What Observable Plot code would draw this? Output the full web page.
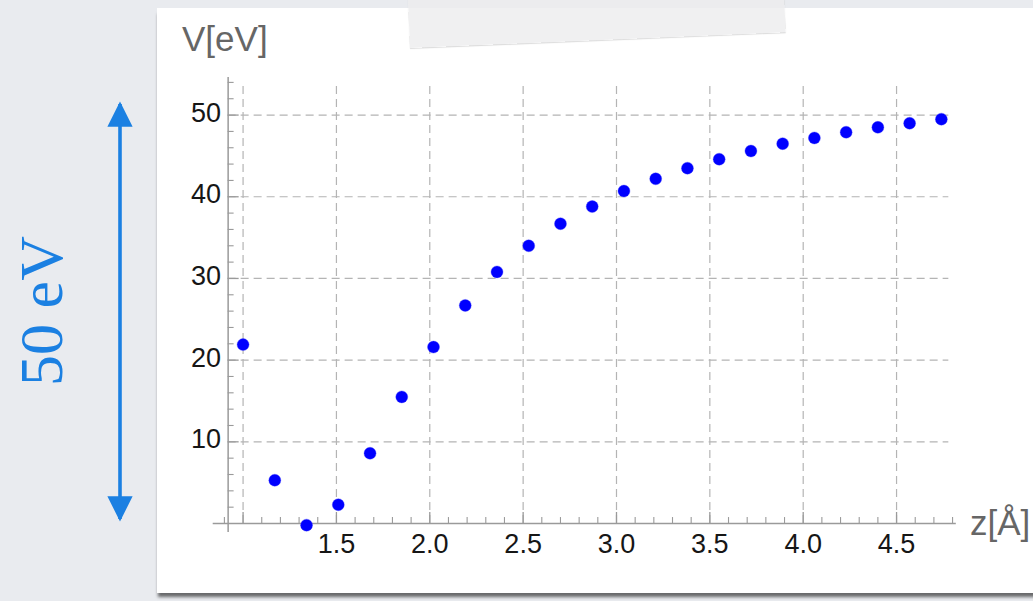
<!DOCTYPE html>
<html>
<head>
<meta charset="utf-8">
<script src="https://cdn.jsdelivr.net/npm/d3@7"></script>
<script src="https://cdn.jsdelivr.net/npm/@observablehq/plot@0.6"></script>
<style>
  html, body { margin: 0; padding: 0; }
  body { width: 1033px; height: 601px; overflow: hidden; position: relative; background: #e9ebef; font-family: "Liberation Sans", Arial, Helvetica, sans-serif; }
  #panel { position: absolute; left: 157px; top: 8px; width: 900px; height: 585px; background: #ffffff; box-shadow: 0 5px 3px -1px rgba(0,0,0,0.55); }
  #chart { position: absolute; left: 0; top: 0; }
  #tape { position: absolute; left: 410px; top: -8px; width: 376px; height: 56px; background: rgba(236,236,237,0.8); transform: rotate(-2.4deg); transform-origin: 0 100%; box-shadow: 0 1px 1px rgba(0,0,0,0.14); }
  .axlabel { position: absolute; color: #666; font-size: 35px; line-height: 1; white-space: nowrap; }
  #overlay { position: absolute; left: 0; top: 0; }
</style>
</head>
<body>
<div id="panel"></div>
<div id="chart"></div>
<div id="tape"></div>
<div class="axlabel" id="ylab" style="left:182px; top:21px;">V[eV]</div>
<div class="axlabel" id="xlab" style="left:970px; top:505px;">z[Å]</div>
<svg id="overlay" width="156" height="601">
  <defs>
    <marker id="ah" viewBox="0 0 10 10" refX="9" refY="5" markerWidth="7" markerHeight="7" orient="auto-start-reverse" markerUnits="strokeWidth">
      <path d="M0,0 L10,5 L0,10 z" fill="#1b80e2"></path>
    </marker>
  </defs>
  <line x1="120" y1="104" x2="120" y2="519" stroke="#1b80e2" stroke-width="3.6" marker-start="url(#ah)" marker-end="url(#ah)"></line>
  <text transform="translate(62,311) rotate(-90)" text-anchor="middle" fill="#1b80e2" font-family="'Liberation Serif', 'DejaVu Serif', serif" font-size="62">50 eV</text>
</svg>
<script>
// Data
const z = [1.00, 1.17, 1.34, 1.51, 1.68, 1.85, 2.02, 2.19, 2.36, 2.53, 2.70, 2.87, 3.04, 3.21, 3.38, 3.55, 3.72, 3.89, 4.06, 4.23, 4.40, 4.57, 4.74];
const V = [21.9, 5.3, -0.2, 2.3, 8.6, 15.5, 21.6, 26.7, 30.8, 34.0, 36.7, 38.8, 40.7, 42.2, 43.5, 44.6, 45.6, 46.5, 47.2, 47.9, 48.5, 49.0, 49.5];

// Tick / grid definitions
const xGrid = [1.0, 1.5, 2.0, 2.5, 3.0, 3.5, 4.0, 4.5];
const xTickLabels = [1.5, 2.0, 2.5, 3.0, 3.5, 4.0, 4.5];
const xMinor = [0.9, 1.1, 1.2, 1.3, 1.4, 1.6, 1.7, 1.8, 1.9, 2.1, 2.2, 2.3, 2.4, 2.6, 2.7, 2.8, 2.9, 3.1, 3.2, 3.3, 3.4, 3.6, 3.7, 3.8, 3.9, 4.1, 4.2, 4.3, 4.4, 4.6, 4.7, 4.8];
const yGrid = [10, 20, 30, 40, 50];
const yTickLabels = [10, 20, 30, 40, 50];
const yMinor = [2, 4, 6, 8, 12, 14, 16, 18, 22, 24, 26, 28, 32, 34, 36, 38, 42, 44, 46, 48, 52, 54];

const data = z.map((d, i) => ({z: d, V: V[i]}));

const xDomain = [0.84, 4.82];
const yDomain = [-1.1, 54.6];
const yAxisAt = 0.92;
const axisColor = "#9a9a9a";
const gridColor = "#b4b4b4";
const font = "'Liberation Sans', Arial, Helvetica, sans-serif";

const chart = Plot.plot({
  width: 1033,
  height: 601,
  marginLeft: 212.7,
  marginRight: 77.2,
  marginTop: 77,
  marginBottom: 69,
  x: {domain: xDomain, axis: null},
  y: {domain: yDomain, axis: null},
  style: {background: "transparent", overflow: "visible", fontFamily: font},
  marks: [
    // grid
    Plot.ruleX(xGrid, {x: d => d, y1: 0, y2: 53.9, stroke: gridColor, strokeWidth: 1.2, strokeDasharray: "8,5"}),
    Plot.ruleY(yGrid, {y: d => d, x1: yAxisAt, x2: 4.78, stroke: gridColor, strokeWidth: 1.2, strokeDasharray: "8,5"}),
    // axes lines
    Plot.ruleX([yAxisAt], {x: d => d, y1: yDomain[0], y2: yDomain[1], stroke: axisColor, strokeWidth: 1.5}),
    Plot.ruleY([0], {y: d => d, x1: xDomain[0], x2: xDomain[1], stroke: axisColor, strokeWidth: 1.5}),
    // ticks (pointing inward)
    Plot.ruleY(yGrid, {y: d => d, x1: yAxisAt, x2: yAxisAt + 0.059, stroke: axisColor, strokeWidth: 1.3}),
    Plot.ruleY(yMinor, {y: d => d, x1: yAxisAt, x2: yAxisAt + 0.032, stroke: axisColor, strokeWidth: 1.1}),
    Plot.ruleX(xGrid, {x: d => d, y1: 0, y2: 1.35, stroke: axisColor, strokeWidth: 1.3}),
    Plot.ruleX(xMinor, {x: d => d, y1: 0, y2: 0.73, stroke: axisColor, strokeWidth: 1.1}),
    // tick labels
    Plot.text(xTickLabels, {x: d => d, y: 0, dy: 21, text: d => d.toFixed(1), fontSize: 27, fill: "#161616", textAnchor: "middle", lineAnchor: "middle"}),
    Plot.text(yTickLabels, {x: yAxisAt, y: d => d, dx: -7, dy: -2, text: d => String(d), fontSize: 27, fill: "#161616", textAnchor: "end", lineAnchor: "middle"}),
    // data
    Plot.dot(data, {x: "z", y: "V", r: 6, fill: "#0000ff", stroke: "#3a3aff", strokeOpacity: 0.35, strokeWidth: 1})
  ]
});
document.getElementById("chart").appendChild(chart);
</script>
</body>
</html>
